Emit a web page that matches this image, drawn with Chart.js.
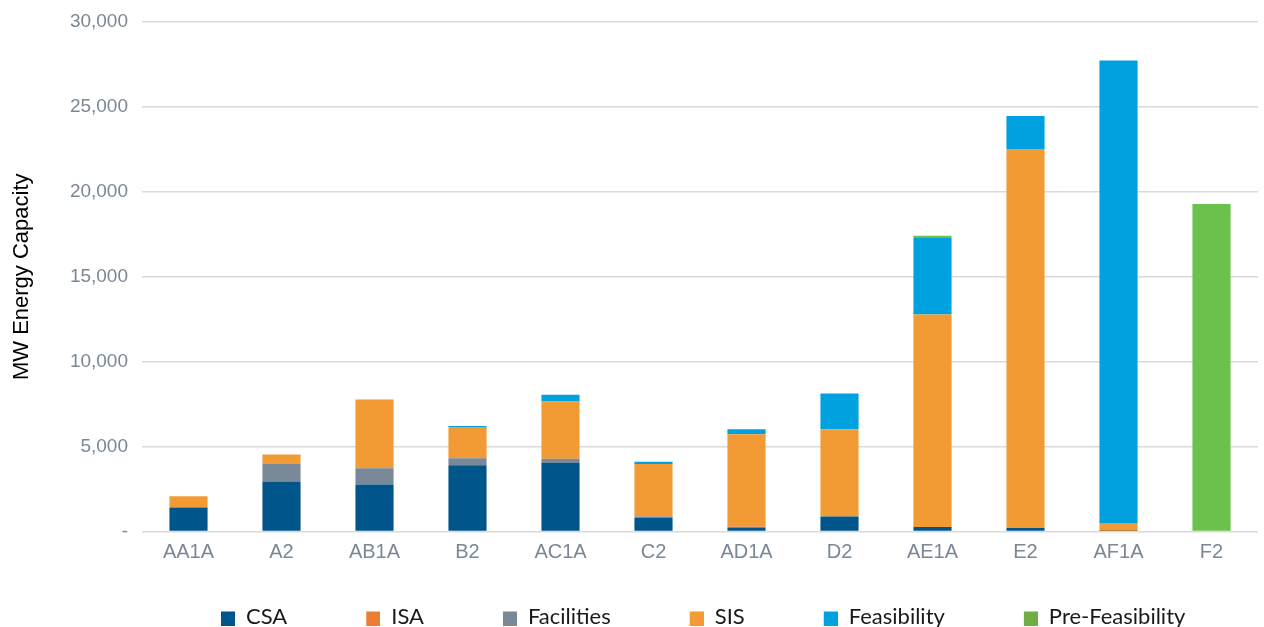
<!DOCTYPE html>
<html>
<head>
<meta charset="utf-8">
<script src="https://cdn.jsdelivr.net/npm/chart.js@4.4.1/dist/chart.umd.min.js"></script>
<style>
  html, body { margin: 0; padding: 0; background: #fff; }
  #wrap { width: 1264px; height: 627px; }
</style>
</head>
<body>
<div id="wrap"><canvas id="myChart"></canvas></div>
<script>
// Categories (queue cycles) and MW per study phase
const categories = ['AA1A', 'A2', 'AB1A', 'B2', 'AC1A', 'C2', 'AD1A', 'D2', 'AE1A', 'E2', 'AF1A', 'F2'];
const csa = [1420, 2950, 2770, 3900, 4040, 790, 240, 890, 260, 200, 30, 0];
const isa = [0, 0, 0, 0, 0, 0, 50, 0, 0, 0, 0, 0];
const facilities = [0, 1060, 950, 410, 250, 100, 0, 0, 0, 0, 0, 0];
const sis = [650, 520, 4050, 1850, 3370, 3090, 5440, 5130, 12520, 22320, 470, 0];
const feasibility = [0, 0, 0, 50, 390, 130, 290, 2110, 4500, 1950, 27240, 0];
const preFeasibility = [0, 0, 0, 0, 0, 0, 0, 0, 140, 0, 0, 19290];
const yTicks = [0, 5000, 10000, 15000, 20000, 25000, 30000];

const seriesNames = ['CSA', 'ISA', 'Facilities', 'SIS', 'Feasibility', 'Pre-Feasibility'];
const seriesData = [csa, isa, facilities, sis, feasibility, preFeasibility];
const barColors = ['#00558b', '#ed7d31', '#7a8997', '#f29a34', '#00a1df', '#6bc14c'];
const legendColors = ['#00558b', '#ed7d31', '#7a8997', '#f29a34', '#00a1df', '#70ad47'];

const tickColor = '#7a8794';
Chart.defaults.font.family = "'Liberation Sans', Arial, sans-serif";

// petit carré de légende, avec du blanc à gauche pour espacer les items
function swatch(color) {
    const c = document.createElement('canvas');
    c.width = 49;
    c.height = 18;
    const g = c.getContext('2d');
    g.fillStyle = color;
    g.fillRect(35, 4, 14, 14);
    return c;
}

const datasets = seriesNames.map((name, i) => ({
    label: name,
    data: seriesData[i],
    backgroundColor: barColors[i],
    borderWidth: 0
}));

const ctx = document.getElementById('myChart').getContext('2d');
const myChart = new Chart(ctx, {
    type: 'bar',
    data: {
        labels: categories,
        datasets: datasets
    },
    options: {
        responsive: true,
        maintainAspectRatio: false,
        animation: false,
        layout: {
            padding: { top: 22, right: 6, bottom: -10.5, left: 0 }
        },
        datasets: {
            bar: { barPercentage: 0.41, categoryPercentage: 1 }
        },
        plugins: {
            tooltip: { enabled: false },
            legend: {
                position: 'bottom',
                fullSize: false,
                align: 'start',
                labels: {
                    usePointStyle: true,
                    pointStyleWidth: 49,
                    padding: 44,
                    color: '#1a1a1a',
                    font: { family: 'Lato', size: 22 },
                    generateLabels: chart => chart.data.datasets.map((ds, i) => ({
                        text: ds.label,
                        fillStyle: legendColors[i],
                        strokeStyle: legendColors[i],
                        lineWidth: 0,
                        fontColor: '#1a1a1a',
                        pointStyle: swatch(legendColors[i]),
                        datasetIndex: i,
                        hidden: false
                    }))
                }
            }
        },
        scales: {
            x: {
                stacked: true,
                grid: { display: false, drawTicks: false },
                border: { display: false },
                ticks: {
                    color: tickColor,
                    font: { size: 20 },
                    padding: 9,
                    maxRotation: 0,
                    autoSkip: false
                },
                afterFit: scale => { scale.height = 30; }
            },
            y: {
                stacked: true,
                min: 0,
                max: 30000,
                grid: { color: '#dadada', lineWidth: 1.5, drawTicks: false },
                border: { display: false },
                afterBuildTicks: axis => { axis.ticks = yTicks.map(v => ({ value: v })); },
                ticks: {
                    color: tickColor,
                    font: { size: 19 },
                    padding: 14,
                    callback: v => v === 0 ? '-' : v.toLocaleString('en-US')
                },
                title: {
                    display: true,
                    text: 'MW Energy Capacity',
                    color: '#000',
                    font: { size: 22 },
                    padding: { top: 9, bottom: 0 }
                },
                afterFit: scale => {
                    scale.width = 142;
                    scale.paddingTop = 0;
                    scale.paddingBottom = 0;
                }
            }
        }
    }
});
</script>
</body>
</html>
